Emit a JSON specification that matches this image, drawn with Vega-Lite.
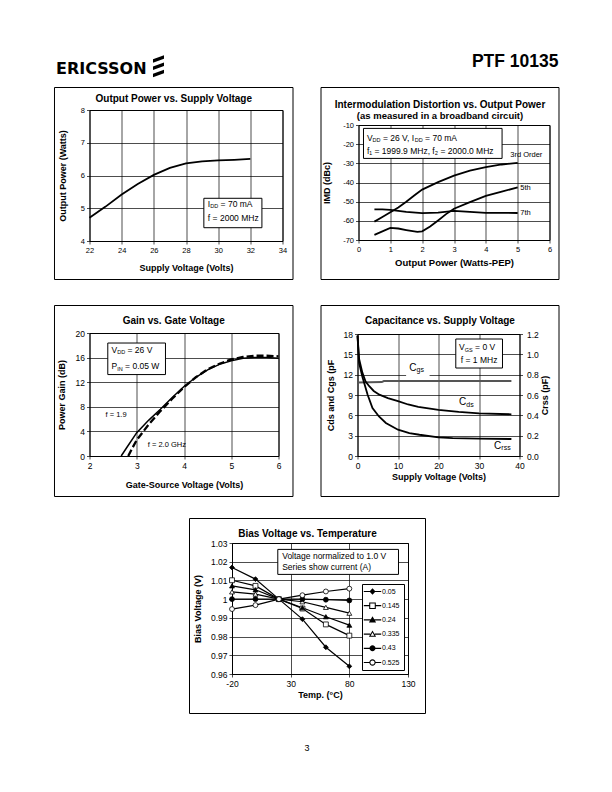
{
  "$schema": "https://vega.github.io/schema/vega-lite/v6.json",
  "background": "white",
  "padding": {"left": 52.5, "top": 48, "right": 0, "bottom": 0},
  "config": {
    "font": "Liberation Sans",
    "view": {"stroke": "black", "strokeWidth": 1},
    "axis": {"grid": true, "gridColor": "black", "gridOpacity": 1, "gridWidth": 0.7, "domain": false, "ticks": true, "tickColor": "black", "tickSize": 3, "tickWidth": 0.7, "labelColor": "black", "labelFont": "Liberation Sans", "labelFontSize": 8, "labelPadding": 2, "labelFlush": false, "labelOverlap": false, "titleFont": "Liberation Sans", "titleFontSize": 9, "titleFontWeight": "bold", "titleColor": "black"},
    "title": {"font": "Liberation Sans", "fontSize": 10, "fontWeight": "bold", "color": "black", "subtitleColor": "black", "subtitleFont": "Liberation Sans", "frame": "bounds"},
    "text": {"font": "Liberation Sans", "color": "black"}
  },
  "datasets": {
    "c1": [
      {"v": 22, "p": 4.71}, {"v": 23, "p": 5.05}, {"v": 24, "p": 5.42}, {"v": 25, "p": 5.74}, {"v": 26, "p": 6.02},
      {"v": 27, "p": 6.23}, {"v": 28, "p": 6.37}, {"v": 29, "p": 6.43}, {"v": 30, "p": 6.46}, {"v": 31, "p": 6.48}, {"v": 32, "p": 6.51}
    ],
    "c2": [
      {"pw": 0.5, "imd": -60.4, "s": "3rd"}, {"pw": 0.75, "imd": -58, "s": "3rd"}, {"pw": 1, "imd": -55.5, "s": "3rd"}, {"pw": 1.25, "imd": -53, "s": "3rd"}, {"pw": 1.5, "imd": -50, "s": "3rd"}, {"pw": 1.75, "imd": -46.8, "s": "3rd"}, {"pw": 2, "imd": -43.7, "s": "3rd"}, {"pw": 2.5, "imd": -39.8, "s": "3rd"}, {"pw": 3, "imd": -36.4, "s": "3rd"}, {"pw": 3.5, "imd": -33.8, "s": "3rd"}, {"pw": 4, "imd": -32, "s": "3rd"}, {"pw": 4.5, "imd": -30.6, "s": "3rd"}, {"pw": 5, "imd": -29.8, "s": "3rd"},
      {"pw": 0.5, "imd": -67.3, "s": "5th"}, {"pw": 0.75, "imd": -65.5, "s": "5th"}, {"pw": 1, "imd": -63.7, "s": "5th"}, {"pw": 1.25, "imd": -64, "s": "5th"}, {"pw": 1.5, "imd": -64.8, "s": "5th"}, {"pw": 1.85, "imd": -65.8, "s": "5th"}, {"pw": 2, "imd": -65.5, "s": "5th"}, {"pw": 2.25, "imd": -63, "s": "5th"}, {"pw": 2.5, "imd": -59.8, "s": "5th"}, {"pw": 2.75, "imd": -56.5, "s": "5th"}, {"pw": 3, "imd": -53.7, "s": "5th"}, {"pw": 3.5, "imd": -50.2, "s": "5th"}, {"pw": 4, "imd": -47, "s": "5th"}, {"pw": 4.5, "imd": -44.8, "s": "5th"}, {"pw": 5, "imd": -42.5, "s": "5th"},
      {"pw": 0.5, "imd": -54, "s": "7th"}, {"pw": 0.75, "imd": -54, "s": "7th"}, {"pw": 1, "imd": -54.3, "s": "7th"}, {"pw": 1.5, "imd": -55.3, "s": "7th"}, {"pw": 2, "imd": -56, "s": "7th"}, {"pw": 2.5, "imd": -55.7, "s": "7th"}, {"pw": 3, "imd": -54.8, "s": "7th"}, {"pw": 3.5, "imd": -55.3, "s": "7th"}, {"pw": 4, "imd": -55.8, "s": "7th"}, {"pw": 4.5, "imd": -55.9, "s": "7th"}, {"pw": 5, "imd": -55.9, "s": "7th"}
    ],
    "c3": [
      {"vg": 2.67, "g": 0, "f": "1.9"}, {"vg": 2.8, "g": 1.5, "f": "1.9"}, {"vg": 3.0, "g": 3.8, "f": "1.9"}, {"vg": 3.25, "g": 5.8, "f": "1.9"}, {"vg": 3.5, "g": 7.6, "f": "1.9"}, {"vg": 3.75, "g": 9.5, "f": "1.9"}, {"vg": 4.0, "g": 11.3, "f": "1.9"}, {"vg": 4.25, "g": 12.8, "f": "1.9"}, {"vg": 4.5, "g": 14.0, "f": "1.9"}, {"vg": 4.75, "g": 14.9, "f": "1.9"}, {"vg": 5.0, "g": 15.5, "f": "1.9"}, {"vg": 5.25, "g": 15.9, "f": "1.9"}, {"vg": 5.5, "g": 16.0, "f": "1.9"}, {"vg": 5.75, "g": 16.0, "f": "1.9"}, {"vg": 6.0, "g": 15.9, "f": "1.9"},
      {"vg": 2.82, "g": 0, "f": "2.0"}, {"vg": 2.9, "g": 1.2, "f": "2.0"}, {"vg": 3.0, "g": 2.6, "f": "2.0"}, {"vg": 3.25, "g": 5.1, "f": "2.0"}, {"vg": 3.5, "g": 7.3, "f": "2.0"}, {"vg": 3.75, "g": 9.3, "f": "2.0"}, {"vg": 4.0, "g": 11.2, "f": "2.0"}, {"vg": 4.25, "g": 12.8, "f": "2.0"}, {"vg": 4.5, "g": 14.1, "f": "2.0"}, {"vg": 4.75, "g": 15.0, "f": "2.0"}, {"vg": 5.0, "g": 15.7, "f": "2.0"}, {"vg": 5.25, "g": 16.1, "f": "2.0"}, {"vg": 5.5, "g": 16.3, "f": "2.0"}, {"vg": 5.75, "g": 16.3, "f": "2.0"}, {"vg": 6.0, "g": 16.2, "f": "2.0"}
    ],
    "c4": [
      {"vs": 0, "c": 10.85, "s": "Cgs"}, {"vs": 6, "c": 10.9, "s": "Cgs"}, {"vs": 6.5, "c": 11.05, "s": "Cgs"}, {"vs": 38, "c": 11.05, "s": "Cgs"},
      {"vs": 0, "c": 17.8, "s": "Cds"}, {"vs": 0.4, "c": 14.3, "s": "Cds"}, {"vs": 1.2, "c": 12.3, "s": "Cds"}, {"vs": 2, "c": 11.0, "s": "Cds"}, {"vs": 2.9, "c": 10.3, "s": "Cds"}, {"vs": 4, "c": 9.6, "s": "Cds"}, {"vs": 5.4, "c": 9.05, "s": "Cds"}, {"vs": 7.5, "c": 8.55, "s": "Cds"}, {"vs": 10, "c": 8.1, "s": "Cds"}, {"vs": 12.5, "c": 7.6, "s": "Cds"}, {"vs": 15, "c": 7.25, "s": "Cds"}, {"vs": 20, "c": 6.8, "s": "Cds"}, {"vs": 25, "c": 6.5, "s": "Cds"}, {"vs": 30, "c": 6.3, "s": "Cds"}, {"vs": 38, "c": 6.15, "s": "Cds"}
    ],
    "c4r": [
      {"vs": 0, "cr": 1.18}, {"vs": 0.4, "cr": 0.913}, {"vs": 1.2, "cr": 0.78}, {"vs": 2.5, "cr": 0.603}, {"vs": 3.7, "cr": 0.472}, {"vs": 5.3, "cr": 0.389}, {"vs": 7, "cr": 0.325}, {"vs": 10, "cr": 0.259}, {"vs": 12.8, "cr": 0.226}, {"vs": 15.3, "cr": 0.209}, {"vs": 20, "cr": 0.184}, {"vs": 23.5, "cr": 0.176}, {"vs": 30, "cr": 0.171}, {"vs": 38, "cr": 0.167}
    ],
    "c5": [
      {"t": -20, "bv": 1.0169, "s": "0.05"}, {"t": 0, "bv": 1.0107, "s": "0.05"}, {"t": 20, "bv": 1.0, "s": "0.05"}, {"t": 40, "bv": 0.9893, "s": "0.05"}, {"t": 60, "bv": 0.9743, "s": "0.05"}, {"t": 80, "bv": 0.9641, "s": "0.05"},
      {"t": -20, "bv": 1.0101, "s": "0.145"}, {"t": 0, "bv": 1.0071, "s": "0.145"}, {"t": 20, "bv": 1.0, "s": "0.145"}, {"t": 40, "bv": 0.995, "s": "0.145"}, {"t": 60, "bv": 0.9865, "s": "0.145"}, {"t": 80, "bv": 0.9805, "s": "0.145"},
      {"t": -20, "bv": 1.0071, "s": "0.24"}, {"t": 0, "bv": 1.005, "s": "0.24"}, {"t": 20, "bv": 1.0, "s": "0.24"}, {"t": 40, "bv": 0.9954, "s": "0.24"}, {"t": 60, "bv": 0.9906, "s": "0.24"}, {"t": 80, "bv": 0.9861, "s": "0.24"},
      {"t": -20, "bv": 1.0039, "s": "0.335"}, {"t": 0, "bv": 1.0027, "s": "0.335"}, {"t": 20, "bv": 1.0, "s": "0.335"}, {"t": 40, "bv": 0.9986, "s": "0.335"}, {"t": 60, "bv": 0.9956, "s": "0.335"}, {"t": 80, "bv": 0.9925, "s": "0.335"},
      {"t": -20, "bv": 1.0, "s": "0.43"}, {"t": 0, "bv": 1.0, "s": "0.43"}, {"t": 20, "bv": 1.0, "s": "0.43"}, {"t": 40, "bv": 1.0, "s": "0.43"}, {"t": 60, "bv": 0.9997, "s": "0.43"}, {"t": 80, "bv": 0.9993, "s": "0.43"},
      {"t": -20, "bv": 0.9947, "s": "0.525"}, {"t": 0, "bv": 0.9968, "s": "0.525"}, {"t": 20, "bv": 1.0, "s": "0.525"}, {"t": 40, "bv": 1.0021, "s": "0.525"}, {"t": 60, "bv": 1.0041, "s": "0.525"}, {"t": 80, "bv": 1.0056, "s": "0.525"}
    ]
  },
  "spacing": 2,
  "vconcat": [
    {
      "width": 470, "height": 32, "view": {"stroke": null},
      "data": {"values": [{}]},
      "layer": [
        {"mark": {"type": "text", "text": "ERICSSON", "font": "DejaVu Sans", "fontWeight": "bold", "fontSize": 16, "align": "left", "baseline": "alphabetic"},
         "encoding": {"x": {"datum": -0.0713, "type": "quantitative", "scale": {"domain": [0, 1], "nice": false, "zero": false}, "axis": null}, "y": {"datum": 0.1875, "type": "quantitative", "scale": {"domain": [0, 1], "nice": false, "zero": false}, "axis": null}}},
        {"mark": {"type": "text", "text": "PTF 10135", "fontWeight": "bold", "fontSize": 17.5, "align": "right", "baseline": "alphabetic"},
         "encoding": {"x": {"datum": 0.9979, "type": "quantitative", "axis": null}, "y": {"datum": 0.40625, "type": "quantitative", "axis": null}}},
        {"mark": {"type": "point", "shape": "M-0.5,-0.62L0.5,-0.98L0.5,-0.66L-0.5,-0.3Z M-0.5,0.04L0.5,-0.32L0.5,0L-0.5,0.36Z M-0.5,0.7L0.5,0.34L0.5,0.66L-0.5,1.02Z", "filled": true, "color": "black", "size": 484, "opacity": 1, "strokeWidth": 0},
         "encoding": {"x": {"datum": 0.1468, "type": "quantitative", "axis": null}, "y": {"datum": 0.4375, "type": "quantitative", "axis": null}}}
      ]
    },
    {
      "spacing": 25,
      "hconcat": [
        {
          "spacing": 0,
          "vconcat": [
            {"width": 1, "height": 4, "view": {"stroke": null}, "data": {"values": []}, "mark": "rect"},
            {
              "width": 193, "height": 131,
              "title": {"text": "Output Power vs. Supply Voltage", "offset": -17},
              "layer": [
                {"data": {"values": [{}]}, "mark": {"type": "rect", "fill": "transparent", "stroke": "black", "strokeWidth": 1, "clip": false},
                 "encoding": {"x": {"datum": 19.82383, "type": "quantitative"}, "x2": {"datum": 34.65285}, "y": {"datum": 8.687023, "type": "quantitative"}, "y2": {"datum": 2.824427}}},
                {"data": {"name": "c1"}, "mark": {"type": "line", "color": "black", "strokeWidth": 1.8},
                 "encoding": {
                   "x": {"field": "v", "type": "quantitative", "scale": {"domain": [22, 34], "nice": false, "zero": false}, "axis": {"title": "Supply Voltage (Volts)", "values": [22, 24, 26, 28, 30, 32, 34], "tickCount": 100, "format": "d", "labelFontSize": 7.5, "titlePadding": 10}},
                   "y": {"field": "p", "type": "quantitative", "scale": {"domain": [4, 8], "nice": false, "zero": false}, "axis": {"title": "Output Power (Watts)", "values": [4, 5, 6, 7, 8], "tickCount": 100, "format": "d", "labelFontSize": 7.5, "titlePadding": 13}}
                 }},
                {"data": {"values": [{}]}, "mark": {"type": "rect", "fill": "white", "stroke": "black", "strokeWidth": 1, "clip": false},
                 "encoding": {"x": {"datum": 29.11, "type": "quantitative"}, "x2": {"datum": 32.72}, "y": {"datum": 5.304, "type": "quantitative"}, "y2": {"datum": 4.406}}},
                {"data": {"values": [{}]}, "mark": {"type": "text", "text": "I", "fontSize": 8.5, "align": "left", "baseline": "middle"},
                 "encoding": {"x": {"datum": 29.36, "type": "quantitative"}, "y": {"datum": 5.13, "type": "quantitative"}}},
                {"data": {"values": [{}]}, "mark": {"type": "text", "text": "DD", "fontSize": 5.5, "align": "left", "baseline": "middle", "dx": 2.4, "dy": 2.5},
                 "encoding": {"x": {"datum": 29.36, "type": "quantitative"}, "y": {"datum": 5.13, "type": "quantitative"}}},
                {"data": {"values": [{}]}, "mark": {"type": "text", "text": "= 70 mA", "fontSize": 8.5, "align": "left", "baseline": "middle", "dx": 12.7},
                 "encoding": {"x": {"datum": 29.36, "type": "quantitative"}, "y": {"datum": 5.13, "type": "quantitative"}}},
                {"data": {"values": [{}]}, "mark": {"type": "text", "text": "f = 2000 MHz", "fontSize": 8.5, "align": "left", "baseline": "middle"},
                 "encoding": {"x": {"datum": 29.36, "type": "quantitative"}, "y": {"datum": 4.71, "type": "quantitative"}}}
              ]
            }
          ]
        },
        {
          "spacing": 0,
          "vconcat": [
            {"width": 1, "height": 4, "view": {"stroke": null}, "data": {"values": []}, "mark": "rect"},
            {
              "width": 191, "height": 115,
              "title": {"text": "Intermodulation Distortion vs. Output Power", "subtitle": "(as measured in a broadband circuit)", "subtitleFontWeight": "bold", "subtitleFontSize": 9.5, "subtitlePadding": 1.5, "offset": -33.5},
              "layer": [
                {"data": {"values": [{}]}, "mark": {"type": "rect", "fill": "transparent", "stroke": "black", "strokeWidth": 1, "clip": false},
                 "encoding": {"x": {"datum": -1.17801, "type": "quantitative"}, "x2": {"datum": 6.298429}, "y": {"datum": 9.565217, "type": "quantitative"}, "y2": {"datum": -90.608696}}},
                {"data": {"name": "c2"}, "mark": {"type": "line", "color": "black", "strokeWidth": 1.8},
                 "encoding": {
                   "x": {"field": "pw", "type": "quantitative", "scale": {"domain": [0, 6], "nice": false, "zero": false}, "axis": {"title": "Output Power (Watts-PEP)", "values": [0, 1, 2, 3, 4, 5, 6], "tickCount": 100, "format": "d", "labelFontSize": 7.5, "titleFontSize": 9.5, "titlePadding": 5}},
                   "y": {"field": "imd", "type": "quantitative", "scale": {"domain": [-70, -10], "nice": false, "zero": false}, "axis": {"title": "IMD (dBc)", "values": [-70, -60, -50, -40, -30, -20, -10], "tickCount": 100, "format": "d", "labelExpr": "replace(datum.label, '−', '-')", "labelFontSize": 7.5, "titlePadding": 11}},
                   "detail": {"field": "s"}
                 }},
                {"data": {"values": [{}]}, "mark": {"type": "rect", "fill": "white", "stroke": "black", "strokeWidth": 1, "clip": false},
                 "encoding": {"x": {"datum": 0.157, "type": "quantitative"}, "x2": {"datum": 4.51}, "y": {"datum": -11.77, "type": "quantitative"}, "y2": {"datum": -27.43}}},
                {"data": {"values": [{}]}, "mark": {"type": "text", "text": "V", "fontSize": 8.5, "align": "left", "baseline": "middle"},
                 "encoding": {"x": {"datum": 0.264, "type": "quantitative"}, "y": {"datum": -16.78, "type": "quantitative"}}},
                {"data": {"values": [{}]}, "mark": {"type": "text", "text": "DD", "fontSize": 5.5, "align": "left", "baseline": "middle", "dx": 5.7, "dy": 2.5},
                 "encoding": {"x": {"datum": 0.264, "type": "quantitative"}, "y": {"datum": -16.78, "type": "quantitative"}}},
                {"data": {"values": [{}]}, "mark": {"type": "text", "text": "= 26 V, I", "fontSize": 8.5, "align": "left", "baseline": "middle", "dx": 16},
                 "encoding": {"x": {"datum": 0.264, "type": "quantitative"}, "y": {"datum": -16.78, "type": "quantitative"}}},
                {"data": {"values": [{}]}, "mark": {"type": "text", "text": "DD", "fontSize": 5.5, "align": "left", "baseline": "middle", "dx": 47.9, "dy": 2.5},
                 "encoding": {"x": {"datum": 0.264, "type": "quantitative"}, "y": {"datum": -16.78, "type": "quantitative"}}},
                {"data": {"values": [{}]}, "mark": {"type": "text", "text": "= 70 mA", "fontSize": 8.5, "align": "left", "baseline": "middle", "dx": 58.2},
                 "encoding": {"x": {"datum": 0.264, "type": "quantitative"}, "y": {"datum": -16.78, "type": "quantitative"}}},
                {"data": {"values": [{}]}, "mark": {"type": "text", "text": "f₁ = 1999.9 MHz, f₂ = 2000.0 MHz", "fontSize": 8.5, "align": "left", "baseline": "middle"},
                 "encoding": {"x": {"datum": 0.264, "type": "quantitative"}, "y": {"datum": -23.56, "type": "quantitative"}}},
                {"data": {"values": [{}]}, "mark": {"type": "text", "text": "3rd Order", "fontSize": 7.5, "align": "left", "baseline": "middle"},
                 "encoding": {"x": {"datum": 4.766, "type": "quantitative"}, "y": {"datum": -25.5, "type": "quantitative"}}},
                {"data": {"values": [{}]}, "mark": {"type": "text", "text": "5th", "fontSize": 7.5, "align": "left", "baseline": "middle"},
                 "encoding": {"x": {"datum": 5.08, "type": "quantitative"}, "y": {"datum": -43.1, "type": "quantitative"}}},
                {"data": {"values": [{}]}, "mark": {"type": "text", "text": "7th", "fontSize": 7.5, "align": "left", "baseline": "middle"},
                 "encoding": {"x": {"datum": 5.08, "type": "quantitative"}, "y": {"datum": -55.9, "type": "quantitative"}}}
              ]
            }
          ]
        }
      ]
    },
    {
      "spacing": 25,
      "hconcat": [
        {
          "spacing": 0,
          "vconcat": [
            {"width": 1, "height": 21, "view": {"stroke": null}, "data": {"values": []}, "mark": "rect"},
            {
              "width": 189, "height": 123,
              "title": {"text": "Gain vs. Gate Voltage", "offset": -20.5},
              "layer": [
                {"data": {"values": [{}]}, "mark": {"type": "rect", "fill": "transparent", "stroke": "black", "strokeWidth": 1, "clip": false},
                 "encoding": {"x": {"datum": 1.259259, "type": "quantitative"}, "x2": {"datum": 6.306878}, "y": {"datum": 24.471545, "type": "quantitative"}, "y2": {"datum": -6.585366}}},
                {"data": {"name": "c3"}, "transform": [{"filter": "datum.f == '1.9'"}], "mark": {"type": "line", "color": "black", "strokeWidth": 1.5},
                 "encoding": {
                   "x": {"field": "vg", "type": "quantitative", "scale": {"domain": [2, 6], "nice": false, "zero": false}, "axis": {"title": "Gate-Source Voltage (Volts)", "values": [2, 3, 4, 5, 6], "tickCount": 100, "format": "d", "labelFontSize": 8.5, "titlePadding": 11}},
                   "y": {"field": "g", "type": "quantitative", "scale": {"domain": [0, 20], "nice": false, "zero": false}, "axis": {"title": "Power Gain (dB)", "values": [0, 4, 8, 12, 16, 20], "tickCount": 100, "format": "d", "labelFontSize": 8.5, "titlePadding": 8.5}}
                 }},
                {"data": {"name": "c3"}, "transform": [{"filter": "datum.f == '2.0'"}], "mark": {"type": "line", "color": "black", "strokeWidth": 2.3, "strokeDash": [7, 3]},
                 "encoding": {"x": {"field": "vg", "type": "quantitative"}, "y": {"field": "g", "type": "quantitative"}}},
                {"data": {"values": [{}]}, "mark": {"type": "rect", "fill": "white", "stroke": "black", "strokeWidth": 1, "clip": false},
                 "encoding": {"x": {"datum": 2.387, "type": "quantitative"}, "x2": {"datum": 3.608}, "y": {"datum": 18.37, "type": "quantitative"}, "y2": {"datum": 13.24}}},
                {"data": {"values": [{}]}, "mark": {"type": "text", "text": "V", "fontSize": 8.5, "align": "left", "baseline": "middle"},
                 "encoding": {"x": {"datum": 2.466, "type": "quantitative"}, "y": {"datum": 17.3, "type": "quantitative"}}},
                {"data": {"values": [{}]}, "mark": {"type": "text", "text": "DD", "fontSize": 5.5, "align": "left", "baseline": "middle", "dx": 5.7, "dy": 2.5},
                 "encoding": {"x": {"datum": 2.466, "type": "quantitative"}, "y": {"datum": 17.3, "type": "quantitative"}}},
                {"data": {"values": [{}]}, "mark": {"type": "text", "text": "= 26 V", "fontSize": 8.5, "align": "left", "baseline": "middle", "dx": 16},
                 "encoding": {"x": {"datum": 2.466, "type": "quantitative"}, "y": {"datum": 17.3, "type": "quantitative"}}},
                {"data": {"values": [{}]}, "mark": {"type": "text", "text": "P", "fontSize": 8.5, "align": "left", "baseline": "middle"},
                 "encoding": {"x": {"datum": 2.466, "type": "quantitative"}, "y": {"datum": 14.59, "type": "quantitative"}}},
                {"data": {"values": [{}]}, "mark": {"type": "text", "text": "IN", "fontSize": 5.5, "align": "left", "baseline": "middle", "dx": 5.7, "dy": 2.5},
                 "encoding": {"x": {"datum": 2.466, "type": "quantitative"}, "y": {"datum": 14.59, "type": "quantitative"}}},
                {"data": {"values": [{}]}, "mark": {"type": "text", "text": "= 0.05 W", "fontSize": 8.5, "align": "left", "baseline": "middle", "dx": 13.6},
                 "encoding": {"x": {"datum": 2.466, "type": "quantitative"}, "y": {"datum": 14.59, "type": "quantitative"}}},
                {"data": {"values": [{}]}, "mark": {"type": "text", "text": "f = 1.9", "fontSize": 7.5, "align": "left", "baseline": "middle"},
                 "encoding": {"x": {"datum": 2.339, "type": "quantitative"}, "y": {"datum": 6.62, "type": "quantitative"}}},
                {"data": {"values": [{}]}, "mark": {"type": "text", "text": "f = 2.0 GHz", "fontSize": 7.5, "align": "left", "baseline": "middle"},
                 "encoding": {"x": {"datum": 3.234, "type": "quantitative"}, "y": {"datum": 1.85, "type": "quantitative"}}}
              ]
            }
          ]
        },
        {
          "spacing": 0,
          "vconcat": [
            {"width": 1, "height": 21, "view": {"stroke": null}, "data": {"values": []}, "mark": "rect"},
            {
              "width": 162, "height": 122,
              "title": {"text": "Capacitance vs. Supply Voltage", "offset": -20.5},
              "layer": [
                {
                  "layer": [
                    {"data": {"values": [{}]}, "mark": {"type": "rect", "fill": "transparent", "stroke": "black", "strokeWidth": 1, "clip": false},
                     "encoding": {"x": {"datum": -9.012346, "type": "quantitative"}, "x2": {"datum": 49.753086}, "y": {"datum": 22.204918, "type": "quantitative"}, "y2": {"datum": -5.97541}}},
                    {"data": {"name": "c4"}, "transform": [{"filter": "datum.s == 'Cgs'"}], "mark": {"type": "line", "color": "#555555", "strokeWidth": 2},
                     "encoding": {
                       "x": {"field": "vs", "type": "quantitative", "scale": {"domain": [0, 40], "nice": false, "zero": false}, "axis": {"title": "Supply Voltage (Volts)", "values": [0, 10, 20, 30, 40], "tickCount": 100, "format": "d", "labelFontSize": 8.5, "titlePadding": 2.5}},
                       "y": {"field": "c", "type": "quantitative", "scale": {"domain": [0, 18], "nice": false, "zero": false}, "axis": {"title": "Cds and Cgs (pF", "values": [0, 3, 6, 9, 12, 15, 18], "tickCount": 100, "format": "d", "labelFontSize": 8.5, "titlePadding": 8}}
                     }},
                    {"data": {"name": "c4"}, "transform": [{"filter": "datum.s == 'Cds'"}], "mark": {"type": "line", "color": "black", "strokeWidth": 1.8},
                     "encoding": {"x": {"field": "vs", "type": "quantitative"}, "y": {"field": "c", "type": "quantitative"}}},
                    {"data": {"values": [{}]}, "mark": {"type": "rect", "fill": "white", "clip": false},
                     "encoding": {"x": {"datum": 12.0, "type": "quantitative"}, "x2": {"datum": 17.8}, "y": {"datum": 14.0, "type": "quantitative"}, "y2": {"datum": 11.6}}},
                    {"data": {"values": [{}]}, "mark": {"type": "text", "text": "C", "fontSize": 10, "align": "left", "baseline": "middle"},
                     "encoding": {"x": {"datum": 12.8, "type": "quantitative"}, "y": {"datum": 13.0, "type": "quantitative"}}},
                    {"data": {"values": [{}]}, "mark": {"type": "text", "text": "gs", "fontSize": 7, "align": "left", "baseline": "middle", "dx": 7.2, "dy": 2.5},
                     "encoding": {"x": {"datum": 12.8, "type": "quantitative"}, "y": {"datum": 13.0, "type": "quantitative"}}},
                    {"data": {"values": [{}]}, "mark": {"type": "text", "text": "C", "fontSize": 10, "align": "left", "baseline": "middle"},
                     "encoding": {"x": {"datum": 25.09, "type": "quantitative"}, "y": {"datum": 7.91, "type": "quantitative"}}},
                    {"data": {"values": [{}]}, "mark": {"type": "text", "text": "ds", "fontSize": 7, "align": "left", "baseline": "middle", "dx": 7.2, "dy": 2.5},
                     "encoding": {"x": {"datum": 25.09, "type": "quantitative"}, "y": {"datum": 7.91, "type": "quantitative"}}},
                    {"data": {"values": [{}]}, "mark": {"type": "text", "text": "C", "fontSize": 10, "align": "left", "baseline": "middle"},
                     "encoding": {"x": {"datum": 33.73, "type": "quantitative"}, "y": {"datum": 1.52, "type": "quantitative"}}},
                    {"data": {"values": [{}]}, "mark": {"type": "text", "text": "rss", "fontSize": 7, "align": "left", "baseline": "middle", "dx": 7.2, "dy": 2.5},
                     "encoding": {"x": {"datum": 33.73, "type": "quantitative"}, "y": {"datum": 1.52, "type": "quantitative"}}},
                    {"data": {"values": [{}]}, "mark": {"type": "rect", "fill": "white", "stroke": "black", "strokeWidth": 1, "clip": false},
                     "encoding": {"x": {"datum": 24.27, "type": "quantitative"}, "x2": {"datum": 35.8}, "y": {"datum": 17.26, "type": "quantitative"}, "y2": {"datum": 12.98}}},
                    {"data": {"values": [{}]}, "mark": {"type": "text", "text": "V", "fontSize": 8.5, "align": "left", "baseline": "middle"},
                     "encoding": {"x": {"datum": 25.09, "type": "quantitative"}, "y": {"datum": 16.08, "type": "quantitative"}}},
                    {"data": {"values": [{}]}, "mark": {"type": "text", "text": "GS", "fontSize": 5.5, "align": "left", "baseline": "middle", "dx": 5.7, "dy": 2.5},
                     "encoding": {"x": {"datum": 25.09, "type": "quantitative"}, "y": {"datum": 16.08, "type": "quantitative"}}},
                    {"data": {"values": [{}]}, "mark": {"type": "text", "text": "= 0 V", "fontSize": 8.5, "align": "left", "baseline": "middle", "dx": 16},
                     "encoding": {"x": {"datum": 25.09, "type": "quantitative"}, "y": {"datum": 16.08, "type": "quantitative"}}},
                    {"data": {"values": [{}]}, "mark": {"type": "text", "text": "f = 1 MHz", "fontSize": 8.5, "align": "left", "baseline": "middle"},
                     "encoding": {"x": {"datum": 25.5, "type": "quantitative"}, "y": {"datum": 14.2, "type": "quantitative"}}}
                  ]
                },
                {"data": {"name": "c4r"}, "mark": {"type": "line", "color": "black", "strokeWidth": 1.8},
                 "encoding": {
                   "x": {"field": "vs", "type": "quantitative"},
                   "y": {"field": "cr", "type": "quantitative", "scale": {"domain": [0, 1.2], "nice": false, "zero": false}, "axis": {"orient": "right", "grid": false, "values": [0, 0.2, 0.4, 0.6, 0.8, 1.0, 1.2], "tickCount": 100, "format": ".1f", "title": "Crss (pF)", "titleAngle": -90, "titleBaseline": "top", "labelPadding": 4, "labelFontSize": 8.5, "titlePadding": 2}}
                 }}
              ],
              "resolve": {"scale": {"y": "independent"}}
            }
          ]
        }
      ]
    },
    {
      "spacing": 97.5,
      "hconcat": [
        {"width": 1, "height": 1, "view": {"stroke": null}, "data": {"values": []}, "mark": "rect"},
        {
          "spacing": 0,
          "vconcat": [
            {"width": 1, "height": 17, "view": {"stroke": null}, "data": {"values": []}, "mark": "rect"},
            {
              "width": 176, "height": 131,
              "title": {"text": "Bias Voltage vs. Temperature", "offset": -20.5},
              "layer": [
                {"data": {"values": [{}]}, "mark": {"type": "rect", "fill": "transparent", "stroke": "black", "strokeWidth": 1, "clip": false},
                 "encoding": {"x": {"datum": -56.221591, "type": "quantitative"}, "x2": {"datum": 144.914773}, "y": {"datum": 1.0430916, "type": "quantitative"}, "y2": {"datum": 0.9388931}}},
                {"data": {"name": "c5"}, "mark": {"type": "line", "color": "black", "strokeWidth": 1.2},
                 "encoding": {
                   "x": {"field": "t", "type": "quantitative", "scale": {"domain": [-20, 130], "nice": false, "zero": false}, "axis": {"title": "Temp. (°C)", "values": [-20, 30, 80, 130], "tickCount": 100, "format": "d", "labelExpr": "replace(datum.label, '−', '-')", "labelFontSize": 8.5, "titlePadding": 2.5}},
                   "y": {"field": "bv", "type": "quantitative", "scale": {"domain": [0.96, 1.03], "nice": false, "zero": false}, "axis": {"title": "Bias Voltage (V)", "values": [0.96, 0.97, 0.98, 0.99, 1, 1.01, 1.02, 1.03], "tickCount": 100, "format": "~g", "labelFontSize": 8.5, "titlePadding": 7.5}},
                   "detail": {"field": "s"}
                 }},
                {"data": {"name": "c5"}, "mark": {"type": "point", "opacity": 1, "stroke": "black", "strokeWidth": 0.8, "size": 24},
                 "encoding": {
                   "x": {"field": "t", "type": "quantitative"},
                   "y": {"field": "bv", "type": "quantitative"},
                   "shape": {"field": "s", "type": "nominal", "scale": {"domain": ["0.05", "0.145", "0.24", "0.335", "0.43", "0.525"], "range": ["diamond", "square", "triangle-up", "triangle-up", "circle", "circle"]}, "legend": null},
                   "fill": {"field": "s", "type": "nominal", "scale": {"domain": ["0.05", "0.145", "0.24", "0.335", "0.43", "0.525"], "range": ["black", "white", "black", "white", "black", "white"]}, "legend": null}
                 }},
                {"data": {"name": "c5"}, "transform": [{"filter": "datum.t > 1000"}], "mark": {"type": "point", "opacity": 1, "filled": true, "color": "black", "strokeWidth": 0, "size": 36},
                 "encoding": {
                   "x": {"field": "t", "type": "quantitative"},
                   "y": {"field": "bv", "type": "quantitative"},
                   "shape": {"field": "s", "type": "nominal",
                     "scale": {"domain": ["0.05", "0.145", "0.24", "0.335", "0.43", "0.525"],
                       "range": [
                         "M-2.9,-0.2H2.9V0.2H-2.9Z M0,-1.1L1,0L0,1.1L-1,0Z",
                         "M-2.9,-0.2H-1.1V0.2H-2.9Z M1.1,-0.2H2.9V0.2H1.1Z M-1.1,-1.1H1.1V1.1H-1.1Z M-0.75,-0.75V0.75H0.75V-0.75Z",
                         "M-2.9,-0.2H2.9V0.2H-2.9Z M0,-1.2L1.2,0.9H-1.2Z",
                         "M-2.9,-0.2H-0.75V0.2H-2.9Z M0.75,-0.2H2.9V0.2H0.75Z M0,-1.2L1.2,0.9H-1.2Z M0,-0.5L-0.6,0.55H0.6Z",
                         "M-2.9,-0.2H2.9V0.2H-2.9Z M-1,0A1,1 0 1,1 1,0A1,1 0 1,1 -1,0Z",
                         "M-2.9,-0.2H-1V0.2H-2.9Z M1,-0.2H2.9V0.2H1Z M-1.05,0A1.05,1.05 0 1,1 1.05,0A1.05,1.05 0 1,1 -1.05,0Z M-0.7,0A0.7,0.7 0 1,0 0.7,0A0.7,0.7 0 1,0 -0.7,0Z"
                       ]},
                     "legend": {"orient": "bottom-right", "offset": 4, "title": null, "padding": 4, "strokeColor": "black", "fillColor": "white", "symbolSize": 36, "symbolFillColor": "black", "symbolStrokeWidth": 0, "symbolOffset": 3, "labelOffset": 6, "labelFontSize": 7, "labelFont": "Liberation Sans", "labelColor": "black", "rowPadding": 6.2, "labelExpr": "datum.label + '\u00a0\u00a0\u00a0\u00a0\u00a0'"}}
                 }},
                {"data": {"values": [{}]}, "mark": {"type": "rect", "fill": "white", "stroke": "black", "strokeWidth": 1, "clip": false},
                 "encoding": {"x": {"datum": 19.03, "type": "quantitative"}, "x2": {"datum": 121.9}, "y": {"datum": 1.02658, "type": "quantitative"}, "y2": {"datum": 1.01322}}},
                {"data": {"values": [{}]}, "mark": {"type": "text", "text": "Voltage normalized to 1.0 V", "fontSize": 8.5, "align": "left", "baseline": "middle"},
                 "encoding": {"x": {"datum": 22.78, "type": "quantitative"}, "y": {"datum": 1.02305, "type": "quantitative"}}},
                {"data": {"values": [{}]}, "mark": {"type": "text", "text": "Series show current (A)", "fontSize": 8.5, "align": "left", "baseline": "middle"},
                 "encoding": {"x": {"datum": 22.78, "type": "quantitative"}, "y": {"datum": 1.01717, "type": "quantitative"}}}
              ],
              "resolve": {"scale": {"shape": "independent", "fill": "independent"}}
            }
          ]
        }
      ]
    },
    {
      "width": 470, "height": 62, "view": {"stroke": null},
      "data": {"values": [{}]},
      "mark": {"type": "text", "text": "3", "fontSize": 9, "align": "center", "baseline": "middle"},
      "encoding": {"x": {"datum": 0.4628, "type": "quantitative", "scale": {"domain": [0, 1], "nice": false, "zero": false}, "axis": null}, "y": {"datum": 0.5, "type": "quantitative", "scale": {"domain": [0, 1], "nice": false, "zero": false}, "axis": null}}
    }
  ]
}
